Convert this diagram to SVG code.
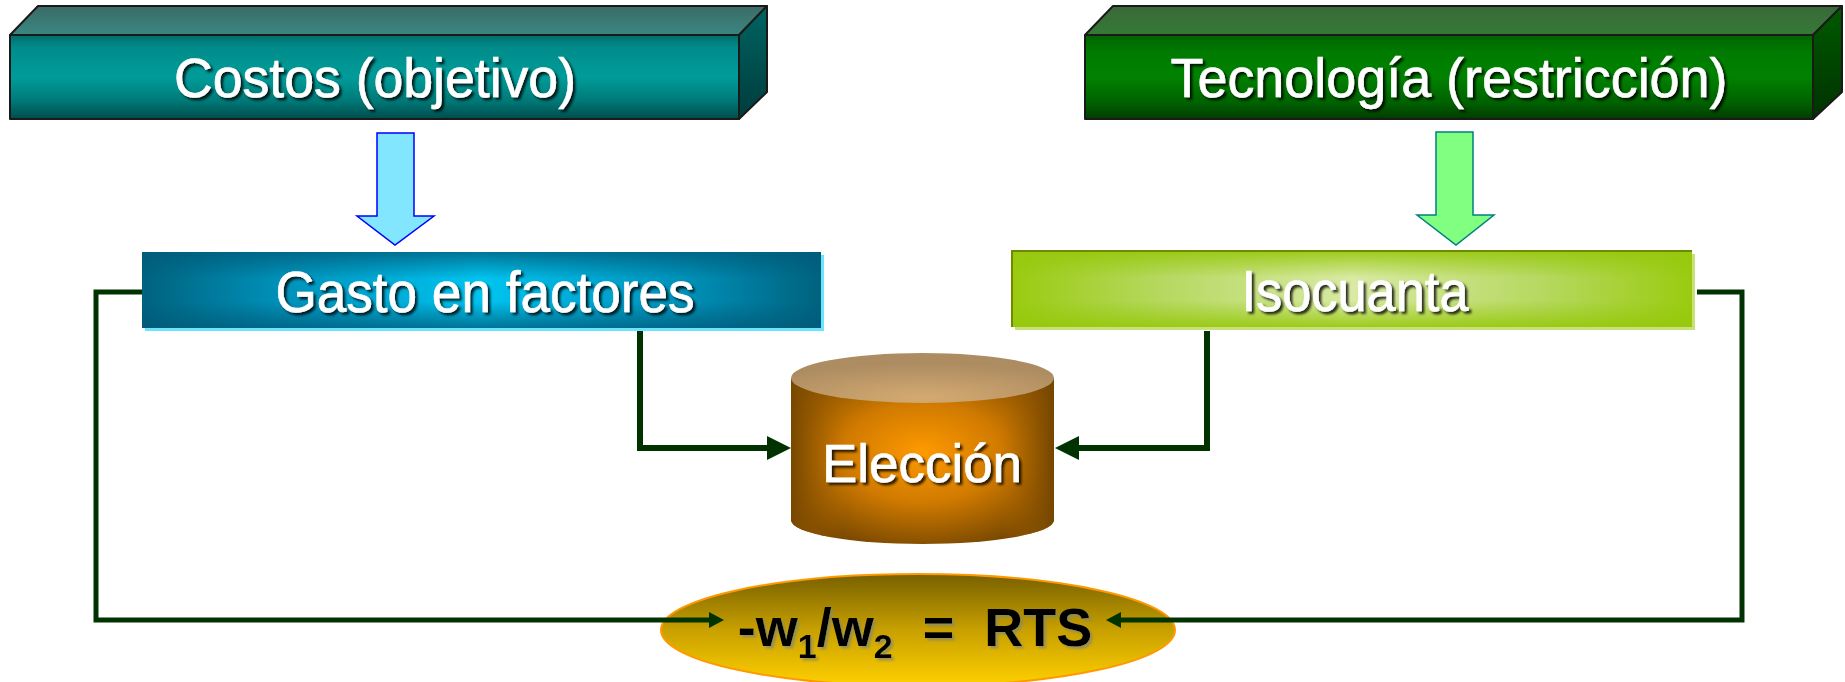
<svg xmlns="http://www.w3.org/2000/svg" width="1845" height="682" viewBox="0 0 1845 682">
<defs>
<linearGradient id="tealFront" x1="0" y1="0" x2="0" y2="1">
<stop offset="0" stop-color="#006e6c"/><stop offset="0.15" stop-color="#008c8a"/><stop offset="0.5" stop-color="#009c9a"/><stop offset="0.78" stop-color="#007a78"/><stop offset="1" stop-color="#004c4c"/>
</linearGradient>
<linearGradient id="tealTop" x1="0" y1="0" x2="0" y2="1">
<stop offset="0" stop-color="#3b6b66"/><stop offset="1" stop-color="#3a8782"/>
</linearGradient>
<linearGradient id="tealSide" x1="0" y1="0" x2="0" y2="1">
<stop offset="0" stop-color="#006462"/><stop offset="1" stop-color="#003c3c"/>
</linearGradient>
<linearGradient id="greenFront" x1="0" y1="0" x2="0" y2="1">
<stop offset="0" stop-color="#006400"/><stop offset="0.2" stop-color="#007a00"/><stop offset="0.5" stop-color="#008200"/><stop offset="0.8" stop-color="#006200"/><stop offset="1" stop-color="#003c00"/>
</linearGradient>
<linearGradient id="greenTop" x1="0" y1="0" x2="0" y2="1">
<stop offset="0" stop-color="#3a683a"/><stop offset="1" stop-color="#357a35"/>
</linearGradient>
<linearGradient id="greenSide" x1="0" y1="0" x2="0" y2="1">
<stop offset="0" stop-color="#005a00"/><stop offset="1" stop-color="#003200"/>
</linearGradient>
<linearGradient id="gastoH" x1="0" y1="0" x2="1" y2="0">
<stop offset="0" stop-color="#00627e"/><stop offset="0.2" stop-color="#0090b8"/><stop offset="0.5" stop-color="#00c4f0"/><stop offset="0.8" stop-color="#0090b8"/><stop offset="1" stop-color="#00627e"/>
</linearGradient>
<linearGradient id="gastoV" x1="0" y1="0" x2="0" y2="1">
<stop offset="0" stop-color="#005a78" stop-opacity="0.75"/><stop offset="0.35" stop-color="#005a78" stop-opacity="0"/><stop offset="0.65" stop-color="#005a78" stop-opacity="0"/><stop offset="1" stop-color="#005a78" stop-opacity="0.75"/>
</linearGradient>
<linearGradient id="isoH" x1="0" y1="0" x2="1" y2="0">
<stop offset="0" stop-color="#9acb10"/><stop offset="0.22" stop-color="#b6d860"/><stop offset="0.5" stop-color="#d8eaa4"/><stop offset="0.78" stop-color="#b6d860"/><stop offset="1" stop-color="#9acb10"/>
</linearGradient>
<linearGradient id="isoV" x1="0" y1="0" x2="0" y2="1">
<stop offset="0" stop-color="#96c80c" stop-opacity="0.9"/><stop offset="0.35" stop-color="#96c80c" stop-opacity="0"/><stop offset="0.65" stop-color="#96c80c" stop-opacity="0"/><stop offset="1" stop-color="#96c80c" stop-opacity="0.9"/>
</linearGradient>
<radialGradient id="cylBody" cx="0.5" cy="0.45" r="0.6">
<stop offset="0" stop-color="#ff9a00"/><stop offset="0.5" stop-color="#d07a00"/><stop offset="1" stop-color="#784800"/>
</radialGradient>
<linearGradient id="cylSide" x1="0" y1="0" x2="1" y2="0">
<stop offset="0" stop-color="#784800"/><stop offset="0.2" stop-color="#b06800" stop-opacity="0"/><stop offset="0.8" stop-color="#b06800" stop-opacity="0"/><stop offset="1" stop-color="#744600"/>
</linearGradient>
<radialGradient id="cylTop" cx="0.5" cy="0.9" r="0.7">
<stop offset="0" stop-color="#d4aa70"/><stop offset="1" stop-color="#ad8c62"/>
</radialGradient>
<linearGradient id="rtsFill" x1="0" y1="0" x2="0" y2="1">
<stop offset="0" stop-color="#776000"/><stop offset="0.5" stop-color="#c8a000"/><stop offset="1" stop-color="#ffd000"/>
</linearGradient>
<filter id="shadowW" x="-10%" y="-20%" width="120%" height="150%">
<feDropShadow dx="2.5" dy="2.5" stdDeviation="0.8" flood-color="#000000" flood-opacity="0.8"/>
</filter>
<filter id="shadowG" x="-10%" y="-20%" width="120%" height="150%">
<feDropShadow dx="2.5" dy="2.5" stdDeviation="0.8" flood-color="#8a8a60" flood-opacity="0.8"/>
</filter>
<marker id="bigArrow" markerUnits="userSpaceOnUse" markerWidth="26" markerHeight="26" refX="0" refY="12" orient="auto">
<path d="M0,0 L24,12 L0,24 z" fill="#003300"/>
</marker>
<marker id="smallArrow" markerUnits="userSpaceOnUse" markerWidth="18" markerHeight="18" refX="0" refY="8" orient="auto">
<path d="M0,0 L15,8 L0,16 z" fill="#003300"/>
</marker>
</defs>
<style>
.lbl{font-family:"Liberation Sans",Arial,sans-serif;fill:#ffffff;stroke:#ffffff;stroke-width:0.6;text-anchor:middle;filter:url(#shadowW);}
.edge{fill:none;stroke:#003300;stroke-linejoin:miter;}
.boxline{stroke:#1a1a1a;stroke-width:2;stroke-linejoin:round;}
</style>

<g id="costos">
<polygon class="boxline" points="10,35 38,6 767,6 739,35" fill="url(#tealTop)"/>
<polygon class="boxline" points="739,35 767,6 767,92 739,119" fill="url(#tealSide)"/>
<rect class="boxline" x="10" y="35" width="729" height="84" fill="url(#tealFront)"/>
<text class="lbl" x="375" y="97" font-size="56" textLength="402" lengthAdjust="spacingAndGlyphs">Costos (objetivo)</text>
</g>

<g id="tecnologia">
<polygon class="boxline" points="1085,35 1113,6 1842,6 1813,35" fill="url(#greenTop)"/>
<polygon class="boxline" points="1813,35 1842,6 1842,92 1813,119" fill="url(#greenSide)"/>
<rect class="boxline" x="1085" y="35" width="728" height="84" fill="url(#greenFront)"/>
<text class="lbl" x="1449" y="97" font-size="56" textLength="557" lengthAdjust="spacingAndGlyphs">Tecnología (restricción)</text>
</g>

<g id="arrow-costos">
<polygon points="377,133 414,133 414,216 434,216 395,245 357,216 377,216" fill="#82e6ff" stroke="#0000ff" stroke-width="1.5"/>
</g>

<g id="arrow-tecnologia">
<polygon points="1436,132 1473,132 1473,215 1494,215 1456,245 1417,215 1436,215" fill="#80ff80" stroke="#008080" stroke-width="1.5"/>
</g>

<g id="gasto">
<rect x="145" y="255" width="679" height="76" fill="#6ae4ff"/>
<rect x="142" y="252" width="679" height="76" fill="url(#gastoH)"/>
<rect x="142" y="252" width="679" height="76" fill="url(#gastoV)"/>
<text class="lbl" x="485" y="312" font-size="58" textLength="419" lengthAdjust="spacingAndGlyphs">Gasto en factores</text>
</g>

<g id="isocuanta">
<rect x="1015" y="254" width="680" height="76" fill="#c6e07a"/>
<rect x="1012" y="251" width="680" height="76" fill="url(#isoH)"/>
<rect x="1012" y="251" width="680" height="76" fill="url(#isoV)"/>
<path d="M1012,327 L1012,251 L1692,251" fill="none" stroke="#6e8a00" stroke-width="2"/>
<text class="lbl" x="1355" y="311" font-size="58" textLength="227" lengthAdjust="spacingAndGlyphs">Isocuanta</text>
</g>

<g id="eleccion">
<path d="M791,378 L791,520 A131.5,24 0 0 0 1054,520 L1054,378 Z" fill="url(#cylBody)"/>
<path d="M791,378 L791,520 A131.5,24 0 0 0 1054,520 L1054,378 Z" fill="url(#cylSide)"/>
<ellipse cx="922.5" cy="378" rx="131.5" ry="25" fill="url(#cylTop)"/>
<text class="lbl" x="922" y="482" font-size="54" textLength="200" lengthAdjust="spacingAndGlyphs">Elección</text>
</g>

<g id="rts">
<ellipse cx="918" cy="630" rx="257" ry="56" fill="url(#rtsFill)" stroke="#ff9900" stroke-width="2"/>
<text x="915" y="646" font-family="Liberation Sans, Arial, sans-serif" font-size="54" font-weight="bold" fill="#000000" text-anchor="middle" filter="url(#shadowG)">-w<tspan font-size="34" dy="12">1</tspan><tspan dy="-12">/w</tspan><tspan font-size="34" dy="12">2</tspan><tspan dy="-12" xml:space="preserve">  =  RTS</tspan></text>
</g>

<g id="connectors">
<path class="edge" stroke-width="6" d="M640,331 L640,448 L767,448" marker-end="url(#bigArrow)"/>
<path class="edge" stroke-width="6" d="M1207,331 L1207,448 L1079,448" marker-end="url(#bigArrow)"/>
<path class="edge" stroke-width="5" d="M142,292 L96,292 L96,620 L709,620" marker-end="url(#smallArrow)"/>
<path class="edge" stroke-width="5" d="M1697,292 L1742,292 L1742,620 L1121,620" marker-end="url(#smallArrow)"/>
</g>
</svg>
